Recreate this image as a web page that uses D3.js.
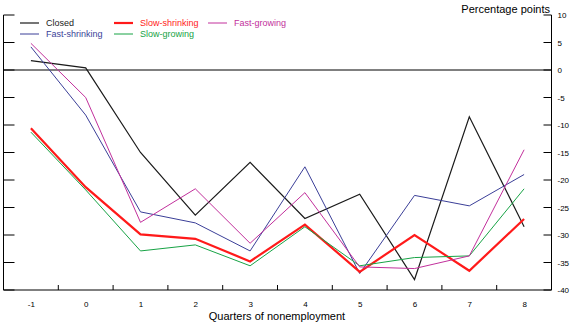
<!DOCTYPE html>
<html><head><meta charset="utf-8">
<script src="https://cdn.jsdelivr.net/npm/d3@7"></script>
<style>body{margin:0;background:#fff}svg{display:block}text{font-family:"Liberation Sans",Arial,sans-serif}</style>
</head><body>
<svg id="c" width="572" height="323"></svg>
<script>
const quarters = [-1, 0, 1, 2, 3, 4, 5, 6, 7, 8];
const closed = [1.7, 0.4, -15.0, -26.4, -16.8, -27.0, -22.6, -38.1, -8.5, -28.5];
const fastShrinking = [4.2, -8.2, -25.8, -27.8, -32.9, -17.6, -37.0, -22.8, -24.7, -19.0];
const slowShrinking = [-10.6, -21.3, -29.9, -30.7, -34.8, -28.1, -36.7, -30.0, -36.5, -27.1];
const slowGrowing = [-11.3, -21.8, -32.9, -31.8, -35.6, -28.5, -35.6, -34.1, -33.8, -21.6];
const fastGrowing = [4.85, -5.0, -27.7, -21.6, -31.5, -22.3, -35.8, -36.1, -33.8, -14.5];
const yTicks = [10, 5, 0, -5, -10, -15, -20, -25, -30, -35, -40];
const seriesNames = ["Closed", "Fast-shrinking", "Slow-shrinking", "Slow-growing", "Fast-growing"];

const series = [
  {name: seriesNames[0], values: closed, color: "#1a1a1a", w: 1.2},
  {name: seriesNames[1], values: fastShrinking, color: "#3b3f98", w: 1},
  {name: seriesNames[2], values: slowShrinking, color: "#ff1a1a", w: 2.2},
  {name: seriesNames[3], values: slowGrowing, color: "#17a345", w: 1},
  {name: seriesNames[4], values: fastGrowing, color: "#c2309c", w: 1}
];

const svg = d3.select("#c");
const L = 3.5, R = 551.5, T = 15, B = 290;
const x = d3.scaleLinear().domain([-1.5, 8.5]).range([L, R]);
const y = d3.scaleLinear().domain([-40, 10]).range([B, T]);

// frame lines
svg.append("line").attr("x1", L).attr("x2", L).attr("y1", T).attr("y2", B).attr("stroke", "#000");
svg.append("line").attr("x1", R).attr("x2", R).attr("y1", T).attr("y2", B).attr("stroke", "#000");
svg.append("line").attr("x1", L).attr("x2", R).attr("y1", B).attr("y2", B).attr("stroke", "#000");

// left inner ticks
svg.append("g").selectAll("line").data(yTicks).join("line")
  .attr("x1", L).attr("x2", L + 11).attr("y1", d => y(d)).attr("y2", d => y(d)).attr("stroke", "#000");

// right axis
const rAxis = d3.axisRight(y).tickValues(yTicks).tickSize(0).tickPadding(6)
  .tickFormat(d => String(d));
const rg = svg.append("g").attr("transform", `translate(${R},0)`).call(rAxis);
rg.select(".domain").remove();
rg.selectAll("text").attr("font-size", 8).attr("fill", "#000").attr("font-family", "Liberation Sans, Arial, sans-serif");
svg.append("g").selectAll("line").data(yTicks).join("line")
  .attr("x1", R - 8).attr("x2", R).attr("y1", d => y(d)).attr("y2", d => y(d)).attr("stroke", "#000");

// bottom axis: ticks between quarters, labels at quarters
const halfTicks = quarters.slice(0, -1).map(q => q + 0.5);
svg.append("g").selectAll("line").data(halfTicks).join("line")
  .attr("x1", d => x(d)).attr("x2", d => x(d)).attr("y1", B).attr("y2", B - 5).attr("stroke", "#000");
const bAxis = d3.axisBottom(x).tickValues(quarters).tickSize(0).tickPadding(11)
  .tickFormat(d => String(d));
const bg = svg.append("g").attr("transform", `translate(0,${B})`).call(bAxis);
bg.select(".domain").remove();
bg.selectAll("text").attr("font-size", 8).attr("fill", "#000").attr("font-family", "Liberation Sans, Arial, sans-serif");

// zero line
svg.append("line").attr("x1", L).attr("x2", R).attr("y1", y(0)).attr("y2", y(0)).attr("stroke", "#000").attr("stroke-width", 1);

// series lines
const line = d3.line().x((d, i) => x(quarters[i])).y(d => y(d));
svg.append("g").selectAll("path").data(series).join("path")
  .attr("d", d => line(d.values)).attr("fill", "none")
  .attr("stroke", d => d.color).attr("stroke-width", d => d.w).attr("stroke-linejoin", "miter");

// titles
svg.append("text").attr("x", 550).attr("y", 13).attr("text-anchor", "end").attr("font-size", 11).text("Percentage points");
svg.append("text").attr("x", 277).attr("y", 320).attr("text-anchor", "middle").attr("font-size", 11).text("Quarters of nonemployment");

// legend
const legPos = [
  {x: 20, y: 23}, {x: 20, y: 34}, {x: 114, y: 23}, {x: 114, y: 34}, {x: 208, y: 23}
];
const lg = svg.append("g");
series.forEach((s, i) => {
  const p = legPos[i];
  lg.append("line").attr("x1", p.x).attr("x2", p.x + 19).attr("y1", p.y).attr("y2", p.y)
    .attr("stroke", s.color).attr("stroke-width", s.w);
  lg.append("text").attr("x", p.x + 26).attr("y", p.y + 3.2).attr("font-size", 9)
    .attr("fill", s.color).text(s.name);
});
</script>
</body></html>
